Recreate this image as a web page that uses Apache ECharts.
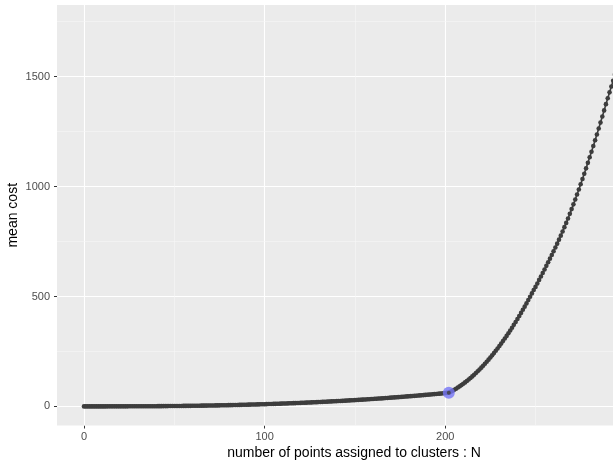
<!DOCTYPE html>
<html>
<head>
<meta charset="utf-8">
<script src="https://cdn.jsdelivr.net/npm/echarts@6/dist/echarts.min.js"></script>
<style>
html,body{margin:0;padding:0;background:#fff;}
#chart{width:613px;height:466px;}
</style>
</head>
<body>
<div id="chart"></div>
<script>
// mean cost for N = 0, 1, 2, ... (one value per N)
const costValues = [
  0,0,0,0,0,0,0,0,0,0,
  0,0,0,0.1,0.1,0.1,0.1,0.1,0.1,0.1,
  0.2,0.2,0.2,0.2,0.2,0.3,0.3,0.3,0.4,0.4,
  0.4,0.5,0.5,0.6,0.6,0.6,0.7,0.7,0.8,0.9,
  0.9,1.0,1.0,1.1,1.2,1.2,1.3,1.4,1.5,1.5,
  1.6,1.7,1.8,1.9,2.0,2.1,2.2,2.3,2.4,2.5,
  2.6,2.7,2.9,3.0,3.1,3.2,3.4,3.5,3.6,3.8,
  3.9,4.1,4.2,4.4,4.5,4.7,4.9,5.0,5.2,5.4,
  5.6,5.8,5.9,6.1,6.3,6.5,6.7,6.9,7.1,7.3,
  7.6,7.8,8.0,8.2,8.5,8.7,8.9,9.2,9.4,9.7,
  10.0,10.2,10.5,10.7,11.0,11.3,11.6,11.9,12.1,12.5,
  12.8,13.1,13.4,13.7,14.0,14.3,14.6,15.0,15.3,15.7,
  16.0,16.3,16.7,17.0,17.4,17.8,18.1,18.5,18.9,19.3,
  19.7,20.1,20.5,20.9,21.3,21.7,22.1,22.6,23.0,23.4,
  23.9,24.3,24.8,25.2,25.7,26.1,26.6,27.1,27.6,28.1,
  28.6,29.1,29.6,30.1,30.6,31.1,31.6,32.2,32.7,33.3,
  33.8,34.4,34.9,35.5,36.0,36.6,37.2,37.8,38.4,39.0,
  39.6,40.2,40.8,41.4,42.0,42.7,43.3,43.9,44.6,45.3,
  45.9,46.6,47.2,47.9,48.6,49.3,50.0,50.7,51.4,52.1,
  52.9,53.6,54.3,55.0,55.8,56.5,57.3,58.0,58.8,59.6,
  60.4,61.2,62.0,66.2,70.7,75.4,80.4,85.6,91.1,96.8,
  102.8,109.0,115.5,122.2,129.1,136.3,143.8,151.5,159.5,167.7,
  176.1,184.8,193.8,203.0,212.5,222.2,232.1,242.3,252.8,263.5,
  274.4,285.6,297.1,308.7,320.7,332.9,345.3,358.0,371.0,384.1,
  397.6,411.3,425.2,439.4,453.8,468.5,483.4,498.6,514.0,529.7,
  543.6,559.3,575.3,590.9,606.9,623.0,639.4,655.6,672.0,688.7,
  705.6,722.8,740.2,758.4,776.8,795.9,815.4,834.7,854.9,875.8,
  897.5,919.1,941.1,963.7,986.6,1010.3,1034.2,1058.3,1082.8,1107.8,
  1133.2,1158.5,1184.3,1210.5,1237.2,1263.9,1291.0,1318.5,1346.5,1374.9,
  1401.8,1428.7,1455.0,1481.7,1509.9,1538.5,1567.6,1597.1,1627.1,1657.5
];
const firstN = 0;
// highlighted (chosen) point
const bestN = [202];
const bestCost = [62];
// axis ticks
const xTicks = [0, 100, 200];
const yTicks = [0, 500, 1000, 1500];
const xMinorGrid = [50, 150, 250];
const yMinorGrid = [250, 750, 1250, 1750];
const xMajorGrid = [0, 100, 200, 300];
const yMajorGrid = [0, 500, 1000, 1500];

const curve = costValues.map((v, i) => [firstN + i, v]);
const best = bestN.map((n, i) => [n, bestCost[i]]);

const gridLines = [];
yMajorGrid.forEach(v => gridLines.push({yAxis: v, lineStyle: {color: '#FFFFFF', width: 1.1, type: 'solid'}}));
xMajorGrid.forEach(v => gridLines.push({xAxis: v, lineStyle: {color: '#FFFFFF', width: 1.1, type: 'solid'}}));
yMinorGrid.forEach(v => gridLines.push({yAxis: v, lineStyle: {color: '#F6F6F6', width: 0.6, type: 'solid'}}));
xMinorGrid.forEach(v => gridLines.push({xAxis: v, lineStyle: {color: '#F6F6F6', width: 0.6, type: 'solid'}}));

const FONT = '"Liberation Sans", Arial, sans-serif';
const chart = echarts.init(document.getElementById('chart'), null, {renderer: 'canvas'});
chart.setOption({
  animation: false,
  backgroundColor: '#FFFFFF',
  textStyle: {fontFamily: FONT},
  grid: {
    left: 57, top: 5, right: -38, bottom: 40.5,
    show: true, backgroundColor: '#EBEBEB', borderWidth: 0,
    containLabel: false, outerBoundsMode: 'none'
  },
  xAxis: {
    type: 'value', min: -14.95, max: 313.95,
    axisLine: {show: false, onZero: false},
    axisTick: {show: true, customValues: xTicks, length: 3, lineStyle: {color: '#333333', width: 1}},
    axisLabel: {customValues: xTicks, color: '#4D4D4D', fontSize: 11, margin: 6, fontFamily: FONT,
      formatter: v => String(v)},
    splitLine: {show: false},
    name: 'number of points assigned to clusters : N',
    nameLocation: 'middle', nameGap: 21, nameMoveOverlap: false,
    nameTextStyle: {color: '#000000', fontSize: 14, fontFamily: FONT}
  },
  yAxis: {
    type: 'value', min: -87, max: 1826,
    axisLine: {show: false, onZero: false},
    axisTick: {show: true, customValues: yTicks, length: 3, lineStyle: {color: '#333333', width: 1}},
    axisLabel: {customValues: yTicks, color: '#4D4D4D', fontSize: 11, margin: 7, fontFamily: FONT,
      formatter: v => String(v)},
    splitLine: {show: false},
    name: 'mean cost',
    nameLocation: 'middle', nameGap: 37, nameMoveOverlap: false,
    nameTextStyle: {color: '#000000', fontSize: 14, fontFamily: FONT}
  },
  series: [
    {
      type: 'scatter', data: [], silent: true, z: 1,
      markLine: {silent: true, symbol: 'none', z: 1, animation: false,
        label: {show: false}, emphasis: {disabled: true}, data: gridLines}
    },
    {
      type: 'line', data: curve, silent: true, z: 3,
      symbol: 'circle', symbolSize: 4.6, showSymbol: true, showAllSymbol: true,
      itemStyle: {color: '#3D3D3D'},
      lineStyle: {color: '#3D3D3D', width: 1.6}
    },
    {
      type: 'scatter', data: best, silent: true, z: 4,
      symbol: 'circle', symbolSize: 12,
      itemStyle: {color: '#7676F6'}
    },
    {
      type: 'scatter', data: best, silent: true, z: 5,
      symbol: 'circle', symbolSize: 4,
      itemStyle: {color: '#3D3D3D'}
    }
  ]
});
</script>
</body>
</html>
